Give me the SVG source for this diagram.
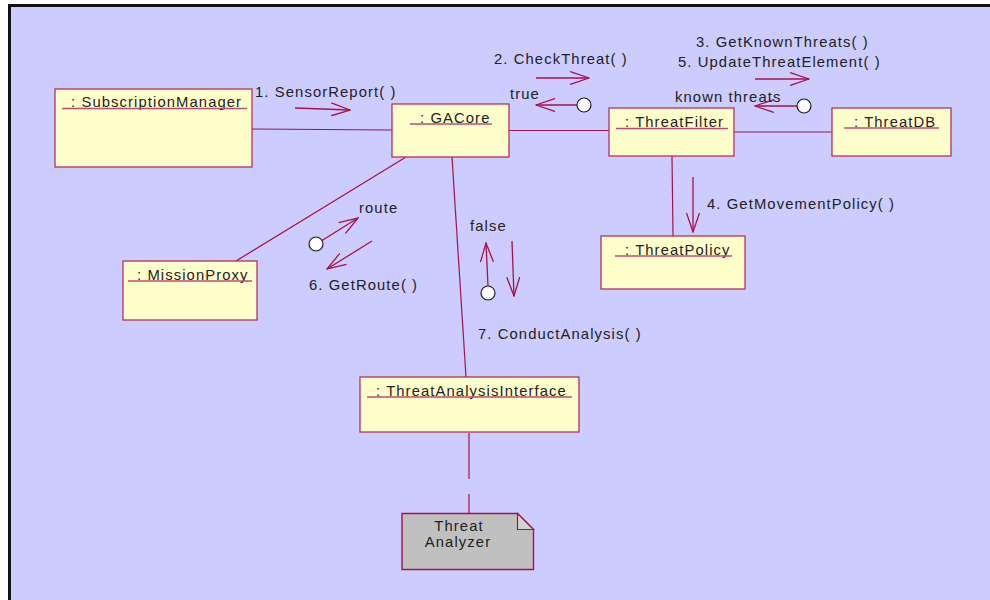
<svg xmlns="http://www.w3.org/2000/svg" width="990" height="600" viewBox="0 0 990 600">
<defs>
<style>
.obj{fill:#FFFFCC;stroke:#B8305E;stroke-width:1.3}
.ul{stroke:#C04A74;stroke-width:1.3}
.lnk{stroke:#A8124A;stroke-width:1.2;fill:none}
.msg{stroke:#A8124A;stroke-width:1.3;fill:none;marker-end:url(#open)}
.ret{fill:#FFFFFF;stroke:#202020;stroke-width:1.2}
text{font-family:"Liberation Sans",Arial,sans-serif;font-size:14.8px;letter-spacing:1.1px;fill:#222222}
</style>
<marker id="open" viewBox="0 0 20 14" markerWidth="20" markerHeight="14" refX="19" refY="7" orient="auto" markerUnits="userSpaceOnUse">
<path d="M0,0.5 L19,7 L0,13.5" fill="none" stroke="#A8124A" stroke-width="1.3"/>
</marker>
</defs>
<rect x="0" y="0" width="990" height="600" fill="#FFFFFF"/>
<rect x="9.5" y="5.5" width="990" height="600" fill="#CCCCFF" stroke="#111111" stroke-width="3"/>

<g id="connectors">
<line class="lnk" x1="252" y1="129" x2="392" y2="130"/>
<line class="lnk" x1="509" y1="130.5" x2="609" y2="130.5"/>
<line class="lnk" x1="734" y1="132" x2="832" y2="132"/>
<line class="lnk" x1="672" y1="156" x2="673" y2="236"/>
<line class="lnk" x1="406" y1="157" x2="236" y2="261"/>
<line class="lnk" x1="452" y1="157" x2="466" y2="377"/>
<line class="lnk" x1="469" y1="433" x2="469" y2="513" stroke-dasharray="46 15"/>
</g>

<g id="messages">
<line class="msg" x1="295" y1="108" x2="350" y2="110"/>
<text x="255" y="97">1. SensorReport( )</text>
<line class="msg" x1="536" y1="78" x2="589" y2="78"/>
<text x="494" y="64">2. CheckThreat( )</text>
<line class="msg" x1="577" y1="105" x2="536" y2="105"/>
<circle class="ret" cx="584" cy="105" r="7"/>
<text x="510" y="99">true</text>
<text x="696" y="47">3. GetKnownThreats( )</text>
<text x="678" y="67">5. UpdateThreatElement( )</text>
<line class="msg" x1="755" y1="79" x2="809" y2="79"/>
<line class="msg" x1="797" y1="106" x2="755" y2="106"/>
<circle class="ret" cx="804" cy="106" r="7"/>
<text x="675" y="102">known threats</text>
<line class="msg" x1="693" y1="177" x2="693" y2="232"/>
<text x="707" y="209">4. GetMovementPolicy( )</text>
<line class="msg" x1="322" y1="240.5" x2="358" y2="218"/>
<circle class="ret" cx="316" cy="244" r="7"/>
<text x="359" y="213">route</text>
<line class="msg" x1="372" y1="241" x2="327" y2="269"/>
<text x="309" y="290">6. GetRoute( )</text>
<line class="msg" x1="488" y1="286" x2="486" y2="243"/>
<circle class="ret" cx="488" cy="293" r="7"/>
<text x="470" y="231">false</text>
<line class="msg" x1="512" y1="241" x2="514" y2="296"/>
<text x="478" y="339">7. ConductAnalysis( )</text>
</g>

<g id="SubscriptionManager">
<rect class="obj" x="55" y="89" width="197" height="78"/>
<text x="71" y="107">: SubscriptionManager</text>
<line class="ul" x1="62" y1="108.5" x2="247" y2="108.5"/>
</g>

<g id="GACore">
<rect class="obj" x="392" y="104" width="117" height="53"/>
<text x="420" y="122.5">: GACore</text>
<line class="ul" x1="410" y1="124" x2="492" y2="124"/>
</g>

<g id="ThreatFilter">
<rect class="obj" x="609" y="108" width="125" height="48"/>
<text x="625" y="127">: ThreatFilter</text>
<line class="ul" x1="616" y1="128.5" x2="728" y2="128.5"/>
</g>

<g id="ThreatDB">
<rect class="obj" x="832" y="108" width="119" height="48"/>
<text x="854" y="127">: ThreatDB</text>
<line class="ul" x1="844" y1="128" x2="939" y2="128"/>
</g>

<g id="ThreatPolicy">
<rect class="obj" x="601" y="236" width="144" height="53"/>
<text x="625" y="255">: ThreatPolicy</text>
<line class="ul" x1="615" y1="256" x2="732" y2="256"/>
</g>

<g id="MissionProxy">
<rect class="obj" x="123" y="261" width="134" height="59"/>
<text x="137" y="280">: MissionProxy</text>
<line class="ul" x1="128" y1="281" x2="252" y2="281"/>
</g>

<g id="ThreatAnalysisInterface">
<rect class="obj" x="360" y="377" width="219" height="55"/>
<text x="376" y="396">: ThreatAnalysisInterface</text>
<line class="ul" x1="367" y1="397" x2="572" y2="397"/>
</g>

<g id="ThreatAnalyzer">
<path d="M402,513.5 L517.5,513.5 L533.5,529.5 L533.5,569.5 L402,569.5 Z" fill="#C0C0C0" stroke="#A8124A" stroke-width="1.4"/>
<path d="M517.5,513.5 L517.5,529.5 L533.5,529.5 Z" fill="#D4D4D4" stroke="#A8124A" stroke-width="1.2"/>
<text x="459" y="531" text-anchor="middle">Threat</text>
<text x="458" y="547" text-anchor="middle">Analyzer</text>
</g>
</svg>
